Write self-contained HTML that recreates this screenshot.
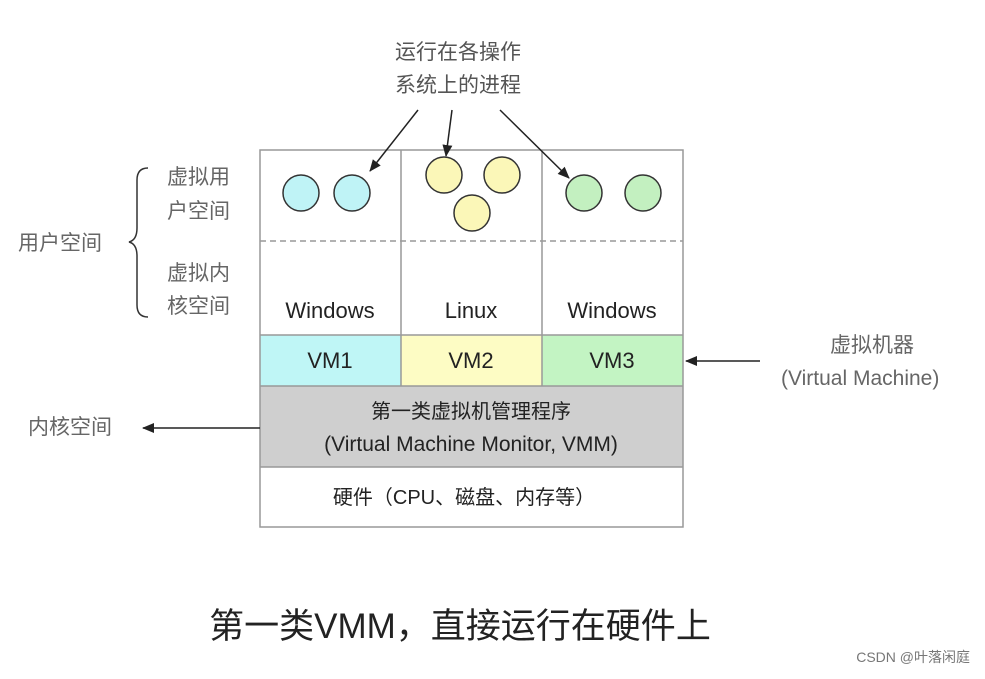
<!DOCTYPE html>
<html><head><meta charset="utf-8"><style>
body{margin:0;background:#fff;}
svg text{font-family:"Liberation Sans","Noto Sans CJK SC",sans-serif;}
</style></head><body>
<svg width="985" height="674" viewBox="0 0 985 674" xmlns="http://www.w3.org/2000/svg">
<defs><marker id="a" markerWidth="12" markerHeight="12" refX="11" refY="6" orient="auto" markerUnits="userSpaceOnUse"><path d="M0,1 L12,6 L0,11 Z" fill="#222"/></marker></defs>
<rect x="0" y="0" width="985" height="674" fill="#fff"/>
<text x="458" y="59" font-size="21" fill="#555" text-anchor="middle">运行在各操作</text>
<text x="458" y="92" font-size="21" fill="#555" text-anchor="middle">系统上的进程</text>
<rect x="260" y="335" width="141" height="51" fill="#bff6f6"/>
<rect x="401" y="335" width="141" height="51" fill="#fdfcc4"/>
<rect x="542" y="335" width="141" height="51" fill="#c3f4c3"/>
<rect x="260" y="386" width="423" height="81" fill="#cfcfcf"/>
<rect x="260" y="150" width="423" height="377" fill="none" stroke="#999" stroke-width="1.5"/>
<line x1="401" y1="150" x2="401" y2="386" stroke="#999" stroke-width="1.5"/>
<line x1="542" y1="150" x2="542" y2="386" stroke="#999" stroke-width="1.5"/>
<line x1="260" y1="335" x2="683" y2="335" stroke="#999" stroke-width="1.5"/>
<line x1="260" y1="386" x2="683" y2="386" stroke="#999" stroke-width="1.5"/>
<line x1="260" y1="467" x2="683" y2="467" stroke="#999" stroke-width="1.5"/>
<line x1="260" y1="241" x2="683" y2="241" stroke="#999" stroke-width="1.5" stroke-dasharray="6,4"/>
<g stroke="#333" stroke-width="1.5">
<circle cx="301" cy="193" r="18" fill="#bff3f6"/>
<circle cx="352" cy="193" r="18" fill="#bff3f6"/>
<circle cx="444" cy="175" r="18" fill="#fbf7b8"/>
<circle cx="502" cy="175" r="18" fill="#fbf7b8"/>
<circle cx="472" cy="213" r="18" fill="#fbf7b8"/>
<circle cx="584" cy="193" r="18" fill="#c3f0c0"/>
<circle cx="643" cy="193" r="18" fill="#c3f0c0"/>
</g>
<line x1="418" y1="110" x2="370" y2="171" stroke="#222" stroke-width="1.5" marker-end="url(#a)"/>
<line x1="452" y1="110" x2="446" y2="156" stroke="#222" stroke-width="1.5" marker-end="url(#a)"/>
<line x1="500" y1="110" x2="569" y2="178" stroke="#222" stroke-width="1.5" marker-end="url(#a)"/>
<g font-size="22" fill="#222" text-anchor="middle">
<text x="330" y="318">Windows</text>
<text x="471" y="318">Linux</text>
<text x="612" y="318">Windows</text>
<text x="330" y="368">VM1</text>
<text x="471" y="368">VM2</text>
<text x="612" y="368">VM3</text>
<text x="471" y="418" font-size="20">第一类虚拟机管理程序</text>
<text x="471" y="451" font-size="21">(Virtual Machine Monitor, VMM)</text>
<text x="464" y="504" font-size="20">硬件（CPU、磁盘、内存等）</text>
</g>
<g font-size="21" fill="#666">
<text x="167" y="184">虚拟用</text>
<text x="167" y="218">户空间</text>
<text x="167" y="280">虚拟内</text>
<text x="167" y="313">核空间</text>
<text x="18" y="250">用户空间</text>
<text x="28" y="434">内核空间</text>
<text x="830" y="352">虚拟机器</text>
<text x="781" y="385">(Virtual Machine)</text>
</g>
<path d="M148,168 Q137,168 137,180 L137,228 Q137,240 129,242 Q137,244 137,256 L137,305 Q137,317 148,317" fill="none" stroke="#333" stroke-width="1.5"/>
<line x1="260" y1="428" x2="143" y2="428" stroke="#222" stroke-width="1.5" marker-end="url(#a)"/>
<line x1="760" y1="361" x2="686" y2="361" stroke="#222" stroke-width="1.5" marker-end="url(#a)"/>
<text x="460" y="638" font-size="35" fill="#222" text-anchor="middle" font-family="'Liberation Serif','Noto Serif CJK SC',serif">第一类VMM，直接运行在硬件上</text>
<text x="970" y="662" font-size="14" fill="#777" text-anchor="end">CSDN @叶落闲庭</text>
</svg>
</body></html>
